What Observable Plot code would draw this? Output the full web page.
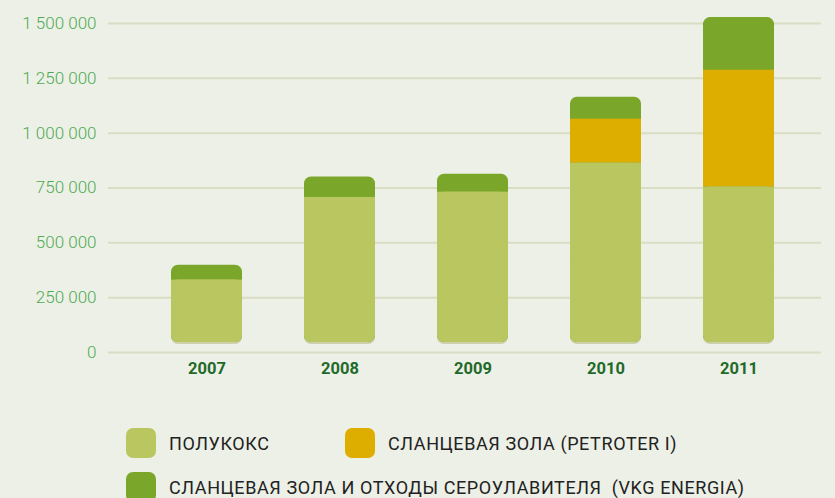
<!DOCTYPE html>
<html>
<head>
<meta charset="utf-8">
<script src="https://cdn.jsdelivr.net/npm/d3@7"></script>
<script src="https://cdn.jsdelivr.net/npm/@observablehq/plot@0.6"></script>
<style>
  html, body { margin: 0; padding: 0; background: #edf0e6; }
  body { width: 835px; height: 498px; position: relative; overflow: hidden; font-family: Roboto, "Noto Sans", sans-serif; }
  #chart { position: absolute; left: 0; top: 0; }
  .item { position: absolute; display: flex; align-items: center; font-size: 18px; color: #222; letter-spacing: 0.6px; }
  .sw { width: 30px; height: 30px; border-radius: 7px; margin-right: 13px; flex: none; }
</style>
</head>
<body>
<div id="chart"></div>
<div id="legend"></div>
<script>
const years = ["2007", "2008", "2009", "2010", "2011"];
const polukoks = [330000, 707000, 731000, 863000, 754000];
const petroter = [0, 0, 0, 201000, 533000];
const vkg = [68000, 93000, 82000, 100000, 240000];
const yTicks = [0, 250000, 500000, 750000, 1000000, 1250000, 1500000];
const seriesNames = ["ПОЛУКОКС", "СЛАНЦЕВАЯ ЗОЛА (PETROTER I)", "СЛАНЦЕВАЯ ЗОЛА И ОТХОДЫ СЕРОУЛАВИТЕЛЯ  (VKG ENERGIA)"];
const colLight = "#bac660", colGreen = "#7aa62a", colOrange = "#ddae00";

const rows = years.map((y, i) => ({
  year: y,
  polu: polukoks[i],
  polu2: polukoks[i] / 2,
  pet: petroter[i],
  top1: polukoks[i] + petroter[i],
  total: polukoks[i] + petroter[i] + vkg[i]
}));

const fmt = d => d3.format(",")(d).replace(/,/g, " ");

const chart = Plot.plot({
  width: 835,
  height: 400,
  marginLeft: 108,
  marginRight: 14,
  marginTop: 23,
  marginBottom: 48,
  style: { background: "transparent", fontFamily: "Roboto, sans-serif" },
  x: { domain: years, paddingInner: 0.463, paddingOuter: 0.392, align: 0.571, label: null },
  y: { domain: [0, 1500000], label: null },
  marks: [
    Plot.gridY(yTicks, { stroke: "#d8ddc3", strokeOpacity: 1, strokeWidth: 2 }),
    Plot.axisY(yTicks, { tickSize: 0, tickPadding: 12, tickFormat: fmt, fill: "#4faa55", fontSize: 17, fontWeight: 300, label: null }),
    Plot.axisX({ tickSize: 0, tickPadding: 10, fill: "#1f6a2a", fontSize: 16.5, fontWeight: "bold", label: null }),
    Plot.barY(rows, { x: "year", y1: 0, y2: "total", rx: 7, insetBottom: 10, dy: 2, fill: "#8f9840", fillOpacity: 0.35 }),
    Plot.barY(rows, { x: "year", y1: 0, y2: "total", rx: 7, insetBottom: 10, fill: colGreen }),
    Plot.barY(rows.filter(d => d.pet > 0), { x: "year", y1: "polu", y2: "top1", fill: colOrange }),
    Plot.barY(rows, { x: "year", y1: 0, y2: "polu", rx: 7, insetBottom: 10, fill: colLight }),
    Plot.barY(rows, { x: "year", y1: "polu2", y2: "polu", fill: colLight })
  ]
});
document.getElementById("chart").append(chart);

const legendItems = [
  { name: seriesNames[0], color: colLight, left: 126, top: 428 },
  { name: seriesNames[1], color: colOrange, left: 345, top: 428 },
  { name: seriesNames[2], color: colGreen, left: 126, top: 472 }
];
const legend = document.getElementById("legend");
legendItems.forEach(it => {
  const div = document.createElement("div");
  div.className = "item";
  div.style.left = it.left + "px";
  div.style.top = it.top + "px";
  const sw = document.createElement("div");
  sw.className = "sw";
  sw.style.background = it.color;
  const span = document.createElement("span");
  span.textContent = it.name;
  span.style.whiteSpace = "pre";
  div.append(sw, span);
  legend.append(div);
});
</script>
</body>
</html>
